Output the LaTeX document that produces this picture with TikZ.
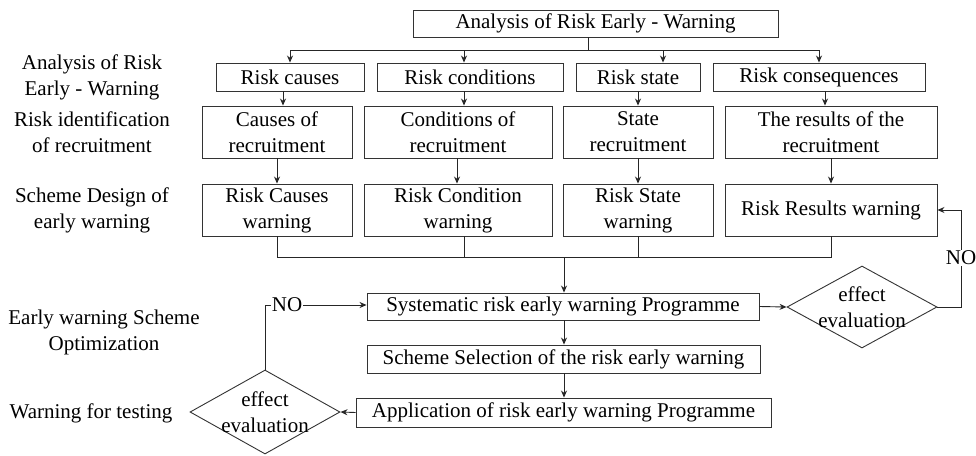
\documentclass[tikz,border=0pt]{standalone}
\usepackage{fontspec}
\setmainfont{Liberation Serif}
\usetikzlibrary{arrows.meta,shapes.geometric}
\begin{document}
\begin{tikzpicture}[x=1pt,y=-1pt,
  txt/.style={font=\fontsize{21}{26}\selectfont, text=black},
  box/.style={txt, draw=black!80, line width=0.9pt, rectangle, inner sep=0pt, align=center},
  lbl/.style={txt, align=center, inner sep=0pt},
  dia/.style={diamond, draw=black!80, line width=0.9pt, inner sep=0pt},
  ln/.style={draw=black!85, line width=0.9pt},
  arr/.style={ln, -{Stealth[length=7pt,width=6pt]}}]
\useasboundingbox (0,0) rectangle (976,455);
\fill[white] (0,0) rectangle (976,455);
% top
\node[box, minimum width=365pt, minimum height=27pt] (top) at (595.5,23.5) {Analysis of Risk Early - Warning};
% row 1
\node[box, minimum width=148pt, minimum height=28pt] (r1a) at (290,77) {Risk causes};
\node[box, minimum width=186pt, minimum height=28pt] (r1b) at (470,77) {Risk conditions};
\node[box, minimum width=124pt, minimum height=28pt] (r1c) at (638,77) {Risk state};
\node[box, minimum width=212pt, minimum height=28pt] (r1d) at (819,77) {Risk consequences};
% row 2
\node[box, minimum width=150pt, minimum height=52pt] (r2a) at (277,132) {Causes of\\recruitment};
\node[box, minimum width=188pt, minimum height=52pt] (r2b) at (458,132) {Conditions of\\recruitment};
\node[box, minimum width=150pt, minimum height=52pt] (r2c) at (638,132) {State\\recruitment};
\node[box, minimum width=212pt, minimum height=52pt] (r2d) at (831,132) {The results of the\\recruitment};
% row 3
\node[box, minimum width=150pt, minimum height=52pt] (r3a) at (277,210) {Risk Causes\\warning};
\node[box, minimum width=188pt, minimum height=52pt] (r3b) at (458,210) {Risk Condition\\warning};
\node[box, minimum width=150pt, minimum height=52pt] (r3c) at (638,210) {Risk State\\warning};
\node[box, minimum width=212pt, minimum height=52pt] (r3d) at (831,210) {Risk Results warning};
% lower chain
\node[box, minimum width=392pt, minimum height=27pt] (sys) at (563,306.5) {Systematic risk early warning Programme};
\node[box, minimum width=393pt, minimum height=28pt] (sel) at (563.5,359) {Scheme Selection of the risk early warning};
\node[box, minimum width=415pt, minimum height=29pt] (app) at (563.5,412.5) {Application of risk early warning Programme};
% diamonds
\node[dia, minimum width=150pt, minimum height=82pt] (d1) at (862,307) {};
\node[lbl] (d1t) at (d1) {effect\\evaluation};
\node[dia, minimum width=150pt, minimum height=84pt] (d2) at (265,412) {};
\node[lbl] (d2t) at (d2) {effect\\evaluation};
% left labels
\node[lbl] (L1) at (92,77) {Analysis of Risk\\Early - Warning};
\node[lbl] (L2) at (92,132) {Risk identification\\of recruitment};
\node[lbl] (L3) at (92,210) {Scheme Design of\\early warning};
\node[lbl] (L4) at (104,332) {Early warning Scheme\\Optimization};
\node[lbl] (L5) at (91,413) {Warning for testing};
% top branching
\coordinate (br) at (588,50);
\draw[ln] (588,0 |- top.south) -- (br);
\draw[ln] (290,50) -- (819,50);
\draw[arr] (290,50) -- (r1a.north);
\draw[arr] (464,50) -- (464,0 |- r1b.north);
\draw[arr] (663,50) -- (663,0 |- r1c.north);
\draw[arr] (819,50) -- (r1d.north);
% row1 -> row2
\draw[arr] (283,0 |- r1a.south) -- (283,0 |- r2a.north);
\draw[arr] (464,0 |- r1b.south) -- (464,0 |- r2b.north);
\draw[arr] (r1c.south) -- (r2c.north);
\draw[arr] (825,0 |- r1d.south) -- (825,0 |- r2d.north);
% row2 -> row3
\draw[arr] (r2a.south) -- (r3a.north);
\draw[arr] (457,0 |- r2b.south) -- (457,0 |- r3b.north);
\draw[arr] (r2c.south) -- (r3c.north);
\draw[arr] (r2d.south) -- (r3d.north);
% merge
\coordinate (mg) at (564,257);
\draw[ln] (r3a.south) -- (277,257) -- (831,257) -- (r3d.south);
\draw[ln] (464,0 |- r3b.south) -- (464,257);
\draw[ln] (r3c.south) -- (638,257);
\draw[arr] (mg) -- (564,0 |- sys.north);
% chain
\draw[arr] (564,0 |- sys.south) -- (564,0 |- sel.north);
\draw[arr] (564,0 |- sel.south) -- (564,0 |- app.north);
\draw[arr] (sys.east) -- (d1.west);
\draw[arr] (app.west) -- (d2.east);
% NO loops
\draw[arr] (d1.east) -- (961,307) -- (961,0 |- r3d.east) -- (r3d.east);
\node[lbl, fill=white, inner sep=1pt] (no1) at (961,258) {NO};
\draw[arr] (d2.north) -- (265,305) -- (sys.west |- 0,305);
\node[lbl, fill=white, inner sep=1pt] (no2) at (287,305) {NO};
\end{tikzpicture}
\end{document}
